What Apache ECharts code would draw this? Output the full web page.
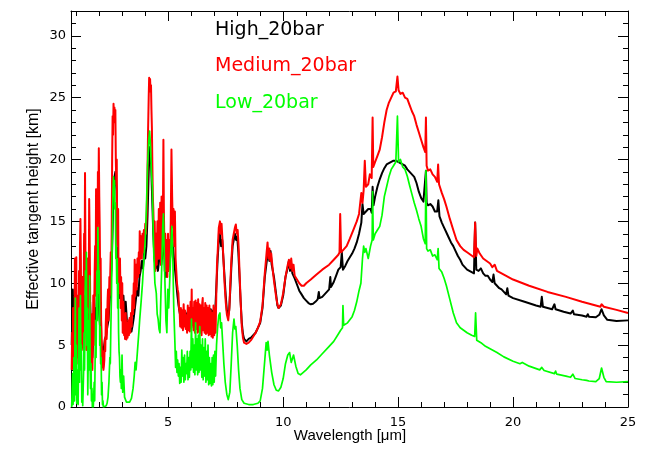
<!DOCTYPE html>
<html>
<head>
<meta charset="utf-8">
<script src="https://cdn.jsdelivr.net/npm/echarts@6/dist/echarts.min.js"></script>
<style>html,body{margin:0;padding:0;background:#fff}#c{width:651px;height:450px}</style>
</head>
<body>
<div id="c"></div>
<script>
// ---- tick positions ----
const xMajor = [5, 10, 15, 20, 25];
const xMinor = [1,2,3,4,6,7,8,9,11,12,13,14,16,17,18,19,21,22,23,24];
const yMajor = [0, 5, 10, 15, 20, 25, 30];
const yMinor = [1,2,3,4,6,7,8,9,11,12,13,14,16,17,18,19,21,22,23,24,26,27,28,29,31];
const seriesNames = ['High_20bar', 'Medium_20bar', 'Low_20bar'];

// ---- High_20bar (wavelength um, tangent height km) ----
const highData = [
[0.80,5.0],[0.85,9.5],[0.90,4.0],[0.96,10.6],[1.00,5.5],[1.05,8.0],[1.10,5.0],[1.15,7.5],[1.20,9.5],[1.25,6.0],
[1.30,7.8],[1.35,6.5],[1.40,9.0],[1.45,6.2],[1.50,7.5],[1.55,5.0],[1.60,8.5],[1.65,5.5],[1.70,4.0],[1.75,6.0],
[1.80,8.0],[1.85,6.5],[1.90,9.5],[1.95,10.2],[2.00,7.5],[2.05,6.0],[2.10,5.0],[2.15,4.4],[2.20,4.8],[2.25,5.5],
[2.30,5.8],[2.35,6.5],[2.40,7.0],[2.45,8.5],[2.50,10.0],[2.55,12.0],[2.60,16.0],[2.65,18.5],[2.70,19.0],[2.75,17.5],
[2.80,12.5],[2.85,10.5],[2.90,8.8],[2.95,9.5],[3.00,7.8],[3.05,9.0],[3.10,7.3],[3.15,8.5],[3.20,7.0],[3.25,6.5],
[3.30,6.0],[3.35,6.3],[3.40,6.1],[3.45,6.6],[3.50,7.2],[3.55,8.0],[3.60,8.8],[3.65,9.6],[3.70,9.0],[3.75,10.5],
[3.80,11.0],[3.85,11.8],[3.90,11.2],[3.95,12.4],[4.00,12.0],[4.05,13.0],[4.10,15.5],[4.15,19.0],[4.20,21.0],[4.25,20.0],
[4.30,17.0],[4.35,14.0],[4.40,12.0],[4.45,11.2],[4.50,12.0],[4.55,11.0],[4.60,11.8],[4.65,13.0],[4.70,11.5],[4.75,12.5],
[4.80,15.0],[4.85,11.0],[4.90,10.5],[4.95,12.0],[5.00,11.0],[5.05,11.5],[5.10,12.5],[5.15,13.5],[5.20,13.0],[5.25,12.0],
[5.30,11.0],[5.35,10.0],[5.40,9.0],[5.45,8.2],[5.50,7.6],[5.55,7.2],[5.60,7.0],[5.65,7.8],[5.70,7.0],[5.75,7.6],
[5.80,6.9],[5.85,7.7],[5.90,7.0],[5.95,7.8],[6.00,7.0],[6.05,7.6],[6.10,6.9],[6.15,7.7],[6.20,6.8],[6.25,7.5],
[6.30,6.9],[6.35,7.7],[6.40,6.9],[6.45,7.6],[6.50,7.0],[6.55,7.8],[6.60,7.0],[6.65,7.7],[6.70,7.1],[6.75,7.8],
[6.80,7.1],[6.85,7.9],[6.90,7.2],[6.95,7.8],[7.00,7.0],[7.05,8.0],[7.10,10.0],[7.15,12.0],[7.20,13.5],[7.25,14.0],
[7.30,13.0],[7.35,13.5],[7.40,12.0],[7.45,10.5],[7.50,9.0],[7.55,7.8],[7.60,7.3],[7.65,7.8],[7.70,9.5],[7.75,11.5],
[7.80,13.0],[7.85,13.5],[7.90,14.0],[7.95,13.5],[8.00,13.8],[8.05,12.5],[8.10,10.5],[8.15,8.5],[8.20,6.8],[8.25,5.9],
[8.30,5.5],[8.40,5.3],[8.50,5.5],[8.60,5.6],[8.70,5.8],[8.80,6.0],[8.90,6.4],[9.00,6.8],[9.10,8.0],[9.20,10.5],
[9.30,12.0],[9.35,12.5],[9.40,11.8],[9.45,12.6],[9.50,11.5],[9.60,10.5],[9.70,9.0],[9.75,8.2],[9.80,8.0],[9.90,8.2],
[10.00,9.0],[10.10,10.5],[10.20,11.3],[10.25,11.8],[10.30,11.0],[10.35,11.6],[10.40,10.8],[10.50,10.4],[10.60,9.9],[10.70,9.4],
[10.80,9.1],[10.90,8.8],[11.00,8.6],[11.10,8.4],[11.20,8.3],[11.30,8.35],[11.40,8.5],[11.50,8.7],[11.55,9.3],[11.58,8.8],
[11.70,8.9],[11.80,9.1],[11.90,9.3],[12.00,9.5],[12.05,10.5],[12.08,9.7],[12.20,10.1],[12.30,10.6],[12.40,11.1],[12.50,11.3],
[12.55,12.5],[12.60,11.1],[12.70,11.4],[12.80,11.8],[12.90,12.1],[13.00,12.4],[13.10,12.8],[13.20,13.3],[13.30,14.0],[13.40,14.9],
[13.45,16.4],[13.50,15.6],[13.60,15.8],[13.70,16.0],[13.80,16.0],[13.85,15.7],[13.89,17.8],[13.93,16.3],[14.00,17.0],[14.10,17.8],
[14.20,18.4],[14.30,18.9],[14.40,19.3],[14.50,19.6],[14.60,19.7],[14.70,19.8],[14.80,19.9],[14.90,19.9],[15.00,19.8],[15.10,19.7],
[15.20,19.6],[15.30,19.5],[15.40,19.2],[15.50,19.0],[15.60,18.8],[15.70,18.6],[15.80,18.1],[15.90,17.4],[16.00,16.9],[16.10,16.6],
[16.18,16.5],[16.21,19.1],[16.24,16.5],[16.30,16.3],[16.40,16.4],[16.50,16.2],[16.60,15.8],[16.70,15.8],[16.75,16.7],[16.80,15.4],
[16.90,14.9],[17.00,14.5],[17.10,14.1],[17.20,13.7],[17.30,13.3],[17.40,13.0],[17.50,12.6],[17.60,12.2],[17.70,11.9],[17.80,11.5],
[17.90,11.3],[18.00,11.1],[18.10,11.0],[18.20,10.9],[18.30,10.8],[18.35,14.9],[18.40,11.1],[18.50,11.0],[18.60,11.2],[18.70,10.8],
[18.80,10.6],[18.90,10.6],[19.00,10.3],[19.10,10.1],[19.15,10.7],[19.20,10.0],[19.30,9.8],[19.40,9.6],[19.50,9.5],[19.60,9.3],
[19.70,9.1],[19.75,9.6],[19.80,9.0],[20.00,8.8],[20.50,8.5],[21.00,8.2],[21.20,8.1],[21.25,8.9],[21.30,8.1],[21.70,7.9],
[21.80,8.3],[21.85,7.9],[22.20,7.7],[22.50,7.55],[22.60,7.8],[22.65,7.5],[23.00,7.4],[23.20,7.3],[23.25,7.5],[23.30,7.3],
[23.60,7.25],[23.75,7.45],[23.85,7.9],[23.95,7.4],[24.10,7.05],[24.50,6.95],[25.00,7.0]
];

// ---- Medium_20bar ----
const mediumData = [
[0.80,3.0],[0.82,6.0],[0.84,3.1],[0.86,8.0],[0.88,3.2],[0.90,5.0],[0.92,3.0],[0.94,12.0],[0.96,3.0],[0.98,10.0],
[1.00,12.1],[1.02,3.5],[1.04,7.0],[1.06,4.0],[1.08,9.0],[1.10,4.5],[1.12,11.0],[1.14,5.0],[1.16,13.0],[1.18,15.2],
[1.20,12.0],[1.22,5.0],[1.24,8.5],[1.26,4.8],[1.28,10.5],[1.30,4.6],[1.32,9.0],[1.34,14.0],[1.36,10.0],[1.38,18.9],
[1.40,12.0],[1.42,8.0],[1.44,4.6],[1.46,9.0],[1.48,12.0],[1.50,6.0],[1.52,11.0],[1.54,8.0],[1.56,16.8],[1.58,14.0],
[1.60,10.0],[1.62,4.0],[1.64,6.5],[1.66,3.2],[1.68,7.5],[1.70,3.0],[1.72,5.5],[1.74,9.0],[1.76,5.0],[1.78,8.0],
[1.80,11.0],[1.82,13.0],[1.84,9.0],[1.86,17.6],[1.88,12.0],[1.90,15.0],[1.92,11.0],[1.94,19.0],[1.96,16.0],[1.98,20.9],
[2.00,17.0],[2.02,14.5],[2.04,10.0],[2.06,12.0],[2.08,7.0],[2.10,6.0],[2.12,4.0],[2.14,3.2],[2.16,4.5],[2.18,3.0],
[2.20,3.3],[2.22,3.8],[2.24,5.5],[2.26,4.5],[2.28,6.5],[2.30,7.9],[2.32,5.5],[2.34,6.5],[2.36,8.5],[2.38,9.5],
[2.40,7.0],[2.42,8.5],[2.44,10.5],[2.46,9.0],[2.48,11.0],[2.50,12.5],[2.52,11.0],[2.54,14.0],[2.56,20.0],[2.58,23.5],
[2.60,22.0],[2.62,24.5],[2.64,23.0],[2.66,24.2],[2.68,23.5],[2.70,24.0],[2.72,20.0],[2.74,18.0],[2.76,20.0],[2.78,14.0],
[2.80,13.0],[2.82,16.0],[2.84,10.0],[2.86,12.0],[2.88,9.2],[2.90,12.0],[2.93,8.0],[2.95,10.5],[2.98,7.0],[3.00,10.0],
[3.02,6.0],[3.05,8.5],[3.08,5.8],[3.10,7.5],[3.12,5.5],[3.15,7.6],[3.18,5.45],[3.20,6.8],[3.23,5.6],[3.26,7.0],
[3.29,5.8],[3.32,7.2],[3.35,6.0],[3.38,7.6],[3.41,6.5],[3.44,9.0],[3.47,7.5],[3.50,10.0],[3.52,8.0],[3.54,11.9],
[3.57,9.0],[3.60,11.5],[3.63,9.5],[3.66,12.0],[3.69,10.5],[3.72,12.5],[3.74,10.8],[3.76,14.2],[3.79,12.0],[3.82,13.8],
[3.85,12.0],[3.88,14.0],[3.91,12.5],[3.94,14.3],[3.97,13.0],[4.00,14.8],[4.03,14.0],[4.06,15.4],[4.09,18.0],[4.12,22.0],
[4.15,25.0],[4.17,26.6],[4.19,26.0],[4.21,26.5],[4.23,25.5],[4.25,26.0],[4.27,24.0],[4.29,22.5],[4.31,19.5],[4.33,17.0],
[4.35,16.0],[4.38,13.8],[4.41,15.0],[4.44,11.0],[4.47,14.0],[4.50,11.5],[4.53,15.0],[4.56,12.0],[4.59,16.0],[4.62,12.0],
[4.65,16.5],[4.68,11.5],[4.71,17.0],[4.74,13.0],[4.77,16.0],[4.79,21.6],[4.81,16.0],[4.84,12.0],[4.87,14.0],[4.90,11.0],
[4.93,13.5],[4.96,10.5],[4.99,14.0],[5.02,11.0],[5.05,13.5],[5.08,12.0],[5.11,15.0],[5.14,20.8],[5.17,17.0],[5.20,14.5],
[5.23,16.0],[5.26,13.0],[5.29,15.8],[5.32,12.0],[5.35,11.0],[5.38,10.0],[5.41,9.5],[5.44,9.2],[5.47,8.0],[5.50,7.6],
[5.52,6.5],[5.55,8.0],[5.58,6.4],[5.61,7.8],[5.64,6.2],[5.67,8.3],[5.70,6.5],[5.73,7.8],[5.76,6.3],[5.79,7.4],
[5.82,6.0],[5.85,8.2],[5.88,6.2],[5.91,8.0],[5.94,6.1],[5.97,8.5],[6.00,6.4],[6.02,9.5],[6.04,6.6],[6.07,8.0],
[6.10,6.2],[6.13,8.5],[6.16,6.0],[6.19,8.6],[6.22,6.3],[6.25,8.4],[6.28,6.0],[6.30,8.7],[6.33,6.1],[6.36,8.3],
[6.39,6.0],[6.42,8.2],[6.45,5.8],[6.48,8.4],[6.50,8.8],[6.52,6.2],[6.55,8.0],[6.58,6.0],[6.61,8.4],[6.64,5.9],
[6.67,8.2],[6.70,6.0],[6.73,8.0],[6.76,5.8],[6.79,8.2],[6.82,5.9],[6.85,7.8],[6.88,5.7],[6.91,7.6],[6.94,5.6],
[6.97,8.2],[7.00,5.8],[7.03,8.0],[7.06,6.0],[7.09,9.0],[7.12,11.5],[7.15,12.5],[7.18,13.8],[7.20,14.5],[7.25,15.0],
[7.28,14.0],[7.32,14.8],[7.36,13.5],[7.40,12.0],[7.45,10.0],[7.50,8.5],[7.55,7.5],[7.61,7.0],[7.66,8.0],[7.70,10.0],
[7.75,12.0],[7.80,13.5],[7.85,14.0],[7.90,14.5],[7.94,14.75],[7.98,14.0],[8.02,14.3],[8.06,13.0],[8.10,11.0],[8.15,8.5],
[8.20,6.5],[8.25,5.6],[8.30,5.2],[8.40,5.1],[8.50,5.2],[8.60,5.4],[8.70,5.7],[8.80,6.0],[8.90,6.4],[9.00,6.9],
[9.10,8.2],[9.20,10.8],[9.28,12.5],[9.32,13.3],[9.36,12.0],[9.40,12.8],[9.44,11.8],[9.48,12.4],[9.55,11.0],[9.60,10.2],
[9.70,8.8],[9.75,8.3],[9.80,8.0],[9.85,7.9],[9.90,8.3],[10.00,9.2],[10.10,10.5],[10.20,11.5],[10.25,11.9],[10.30,11.2],
[10.35,12.0],[10.40,11.0],[10.45,11.5],[10.50,10.6],[10.60,10.3],[10.70,10.0],[10.80,9.8],[10.90,9.8],[11.00,10.0],[11.20,10.3],
[11.45,10.7],[11.70,11.1],[12.00,11.5],[12.20,11.9],[12.40,12.3],[12.45,12.5],[12.48,15.6],[12.52,12.5],[12.60,12.6],[12.76,13.0],
[12.90,13.6],[13.05,14.3],[13.20,15.0],[13.30,15.6],[13.40,17.3],[13.45,16.5],[13.50,17.5],[13.55,19.9],[13.60,17.8],[13.70,18.0],
[13.77,18.8],[13.85,18.5],[13.89,23.4],[13.92,19.4],[14.00,19.8],[14.10,20.3],[14.20,20.8],[14.30,21.8],[14.40,23.0],[14.50,24.0],
[14.60,24.6],[14.70,25.0],[14.80,25.4],[14.90,25.5],[14.97,26.7],[15.02,25.6],[15.10,25.3],[15.20,25.4],[15.30,25.0],[15.40,24.9],
[15.50,24.4],[15.60,23.9],[15.70,23.5],[15.80,22.8],[15.90,22.2],[16.00,21.6],[16.10,21.0],[16.18,20.6],[16.21,23.4],[16.24,19.5],
[16.30,19.1],[16.40,19.2],[16.50,18.8],[16.60,18.6],[16.70,18.2],[16.74,19.6],[16.78,18.0],[16.90,17.3],[17.00,16.8],[17.10,16.2],
[17.25,15.2],[17.40,14.3],[17.54,13.5],[17.70,13.0],[17.85,12.7],[18.00,12.5],[18.15,12.3],[18.30,12.1],[18.35,14.9],[18.40,12.2],
[18.45,12.8],[18.55,12.4],[18.70,12.0],[18.85,11.8],[19.00,11.6],[19.10,11.3],[19.20,11.5],[19.30,11.0],[19.50,10.8],[20.00,10.3],
[20.70,9.8],[21.50,9.3],[22.30,8.9],[23.00,8.5],[23.80,8.1],[23.85,8.3],[23.95,8.1],[24.50,7.85],[25.00,7.6]
];

// ---- Low_20bar ----
const lowData = [
[0.80,0.0],[0.82,1.5],[0.84,2.7],[0.86,0.2],[0.88,2.0],[0.90,4.0],[0.92,0.5],[0.94,5.0],[0.96,8.8],[0.98,1.0],
[1.00,5.0],[1.02,0.3],[1.04,2.0],[1.06,3.0],[1.08,0.2],[1.10,4.0],[1.12,8.0],[1.14,2.0],[1.16,6.0],[1.18,9.0],
[1.20,3.0],[1.22,5.0],[1.24,0.4],[1.26,2.0],[1.28,0.1],[1.30,1.5],[1.32,3.0],[1.34,6.0],[1.36,3.0],[1.38,8.0],
[1.40,11.0],[1.42,6.0],[1.44,12.5],[1.46,5.0],[1.48,8.0],[1.50,1.0],[1.52,4.0],[1.54,7.0],[1.56,3.0],[1.58,10.6],
[1.60,4.0],[1.62,1.5],[1.64,3.5],[1.66,0.5],[1.68,1.5],[1.70,0.0],[1.72,0.5],[1.74,0.0],[1.76,1.0],[1.78,2.0],
[1.80,0.5],[1.82,4.0],[1.84,7.0],[1.86,4.0],[1.88,8.0],[1.90,11.0],[1.92,7.0],[1.94,14.5],[1.96,12.0],[1.98,9.2],
[2.00,11.0],[2.02,5.0],[2.04,6.5],[2.06,3.5],[2.08,4.0],[2.10,1.0],[2.12,2.0],[2.14,0.2],[2.16,0.5],[2.18,0.0],
[2.22,0.0],[2.26,0.1],[2.30,0.1],[2.34,0.3],[2.38,0.8],[2.42,2.0],[2.46,4.0],[2.48,3.5],[2.50,6.0],[2.53,9.0],
[2.56,13.0],[2.58,15.0],[2.60,17.5],[2.62,18.6],[2.64,17.5],[2.66,18.3],[2.68,16.0],[2.70,16.5],[2.72,12.0],[2.74,13.0],
[2.76,10.0],[2.78,12.0],[2.80,8.0],[2.82,10.0],[2.84,6.0],[2.86,4.5],[2.88,4.0],[2.90,2.5],[2.92,2.0],[2.94,3.0],
[2.96,1.5],[2.99,4.2],[3.02,1.2],[3.06,2.5],[3.10,0.8],[3.18,0.4],[3.25,0.3],[3.32,0.4],[3.40,0.7],[3.47,1.5],
[3.52,2.5],[3.56,3.6],[3.60,3.0],[3.66,4.5],[3.72,6.0],[3.76,7.1],[3.82,8.5],[3.88,10.0],[3.94,11.9],[4.00,13.5],
[4.05,16.0],[4.10,19.5],[4.15,21.5],[4.19,22.3],[4.23,21.0],[4.27,19.0],[4.31,17.8],[4.36,13.0],[4.42,10.0],[4.48,9.2],
[4.52,7.5],[4.56,7.1],[4.60,6.3],[4.64,6.0],[4.68,9.0],[4.72,11.5],[4.76,14.5],[4.79,15.6],[4.83,12.0],[4.87,9.2],
[4.90,7.0],[4.94,6.0],[4.98,9.5],[5.02,8.0],[5.06,10.0],[5.10,12.0],[5.13,13.5],[5.16,14.6],[5.20,12.0],[5.24,8.0],
[5.29,5.2],[5.32,3.2],[5.35,4.5],[5.38,2.8],[5.41,3.8],[5.44,2.5],[5.47,3.5],[5.50,1.9],[5.53,3.2],[5.56,2.0],
[5.59,4.6],[5.62,2.5],[5.65,4.0],[5.68,2.0],[5.71,4.2],[5.74,2.2],[5.77,3.5],[5.80,2.7],[5.83,4.5],[5.86,2.2],
[5.89,4.0],[5.92,2.4],[5.95,4.5],[5.98,3.0],[6.01,7.1],[6.04,3.2],[6.07,5.5],[6.10,2.8],[6.13,5.0],[6.16,2.6],
[6.19,6.8],[6.22,3.0],[6.25,5.5],[6.28,2.6],[6.31,5.8],[6.34,2.8],[6.37,6.5],[6.40,3.0],[6.43,5.0],[6.46,2.4],
[6.49,5.5],[6.52,2.2],[6.55,4.8],[6.58,2.5],[6.61,5.5],[6.64,2.0],[6.67,4.5],[6.70,2.2],[6.73,5.0],[6.76,1.8],
[6.79,4.0],[6.82,1.9],[6.85,3.5],[6.88,1.7],[6.91,4.0],[6.94,1.8],[6.97,4.2],[7.00,2.0],[7.03,4.5],[7.06,2.5],
[7.10,5.0],[7.15,6.5],[7.20,7.4],[7.25,7.6],[7.28,6.4],[7.32,6.8],[7.36,5.5],[7.42,3.5],[7.48,2.0],[7.55,1.0],
[7.61,0.6],[7.68,1.2],[7.74,3.5],[7.80,6.0],[7.86,7.1],[7.90,6.3],[7.94,6.5],[8.00,5.0],[8.06,3.0],[8.12,1.5],
[8.20,0.6],[8.30,0.3],[8.50,0.2],[8.70,0.2],[8.90,0.3],[9.00,0.5],[9.10,1.5],[9.20,3.8],[9.26,5.2],[9.30,4.6],
[9.34,5.3],[9.40,4.2],[9.50,2.8],[9.60,1.8],[9.70,1.35],[9.80,1.3],[9.90,1.6],[10.00,2.3],[10.10,3.5],[10.20,4.2],
[10.28,4.4],[10.35,3.6],[10.45,4.2],[10.55,3.3],[10.65,2.7],[10.75,2.6],[11.00,3.0],[11.20,3.4],[11.45,3.8],[11.70,4.3],
[12.00,4.9],[12.20,5.3],[12.40,5.9],[12.50,6.2],[12.58,6.4],[12.60,8.2],[12.63,6.6],[12.80,6.8],[13.00,7.3],[13.10,7.8],
[13.20,8.5],[13.30,9.4],[13.38,10.0],[13.45,12.0],[13.50,13.0],[13.55,12.5],[13.60,12.8],[13.70,12.0],[13.80,13.0],[13.87,13.5],
[13.89,17.4],[13.92,13.5],[14.00,14.0],[14.10,14.3],[14.20,14.6],[14.30,15.5],[14.40,17.0],[14.50,17.8],[14.60,18.6],[14.70,19.2],
[14.80,19.5],[14.90,19.8],[14.97,23.5],[15.02,19.8],[15.10,20.0],[15.20,19.4],[15.30,19.2],[15.40,18.65],[15.50,17.9],[15.60,17.2],
[15.70,16.5],[15.80,15.9],[15.90,15.2],[16.00,14.6],[16.10,13.6],[16.18,13.2],[16.21,19.1],[16.24,12.8],[16.30,12.6],[16.40,12.7],
[16.50,12.2],[16.60,12.3],[16.70,11.9],[16.74,12.8],[16.78,11.2],[16.90,10.9],[17.00,10.4],[17.10,9.8],[17.25,8.7],[17.40,7.6],
[17.54,6.8],[17.70,6.4],[17.85,6.2],[18.00,6.0],[18.20,5.8],[18.33,5.7],[18.37,7.6],[18.42,5.4],[18.60,5.2],[18.80,4.9],
[19.00,4.7],[19.30,4.4],[19.60,4.05],[20.00,3.7],[20.30,3.5],[20.40,3.6],[20.45,3.45],[20.70,3.3],[21.16,3.0],[21.25,3.2],
[21.35,2.95],[21.80,2.7],[21.85,2.9],[21.90,2.65],[22.30,2.5],[22.50,2.4],[22.60,2.65],[22.70,2.3],[23.00,2.2],[23.20,2.15],
[23.25,2.3],[23.30,2.1],[23.60,2.05],[23.75,2.3],[23.85,3.15],[23.95,2.4],[24.05,2.05],[24.50,2.0],[25.00,2.05]
];

const X_MIN = 0.77, X_MAX = 25, Y_MIN = 0, Y_MAX = 32;
const colors = ['#000000', '#ff0000', '#00ff00'];

const gridRect = { left: 71, top: 11, width: 557, height: 396 };
const tickFont = { fontFamily: 'DejaVu Sans', fontSize: 13, color: '#000' };

function xAx(grid, pos, ticks, len, labels, showLine) {
  return {
    type: 'value', gridIndex: grid, position: pos, min: X_MIN, max: X_MAX,
    axisLine: { show: showLine, onZero: false, lineStyle: { color: '#000', width: 1 } },
    axisTick: { show: true, inside: true, length: len, customValues: ticks, lineStyle: { color: '#000', width: 1 } },
    axisLabel: labels ? Object.assign({ show: true, customValues: ticks, margin: 9 }, tickFont) : { show: false },
    splitLine: { show: false }, minorTick: { show: false }
  };
}
function yAx(grid, pos, ticks, len, labels, showLine) {
  return {
    type: 'value', gridIndex: grid, position: pos, min: Y_MIN, max: Y_MAX,
    axisLine: { show: showLine, onZero: false, lineStyle: { color: '#000', width: 1 } },
    axisTick: { show: true, inside: true, length: len, customValues: ticks, lineStyle: { color: '#000', width: 1 } },
    axisLabel: labels ? Object.assign({ show: true, customValues: ticks, margin: 5 }, tickFont) : { show: false },
    splitLine: { show: false }, minorTick: { show: false }
  };
}

const chart = echarts.init(document.getElementById('c'), null, { renderer: 'canvas' });
const datasets = [highData, mediumData, lowData];
const widths = [2, 2, 1.7];

chart.setOption({
  animation: false,
  backgroundColor: '#fff',
  grid: [Object.assign({}, gridRect), Object.assign({}, gridRect)],
  xAxis: [
    xAx(0, 'bottom', xMajor, 10, true, true),
    xAx(0, 'top', xMajor, 10, false, true),
    xAx(1, 'bottom', xMinor, 5, false, false),
    xAx(1, 'top', xMinor, 5, false, false)
  ],
  yAxis: [
    yAx(0, 'left', yMajor, 10, true, true),
    yAx(0, 'right', yMajor, 10, false, true),
    yAx(1, 'left', yMinor, 5, false, false),
    yAx(1, 'right', yMinor, 5, false, false)
  ],
  series: datasets.map((d, i) => ({
    name: seriesNames[i], type: 'line', xAxisIndex: 0, yAxisIndex: 0,
    data: d, showSymbol: false, symbol: 'none', clip: true,
    lineStyle: { color: colors[i], width: widths[i], join: 'round' }, z: 2 + i
  })),
  graphic: [
    { type: 'text', left: 215, top: 21, style: { text: seriesNames[0], fill: colors[0], font: '19px "DejaVu Sans"' } },
    { type: 'text', left: 215, top: 57, style: { text: seriesNames[1], fill: colors[1], font: '19px "DejaVu Sans"' } },
    { type: 'text', left: 215, top: 94, style: { text: seriesNames[2], fill: colors[2], font: '19px "DejaVu Sans"' } },
    { type: 'text', x: 350, y: 436, style: { text: 'Wavelength [\u03bcm]', fill: '#000', font: '15px "Liberation Sans"', align: 'center', verticalAlign: 'middle' } },
    { type: 'text', x: 34, y: 209, rotation: Math.PI / 2, style: { text: 'Effective tangent height [km]', fill: '#000', font: '16px "Liberation Sans"', align: 'center', verticalAlign: 'middle' } }
  ]
});
</script>
</body>
</html>
